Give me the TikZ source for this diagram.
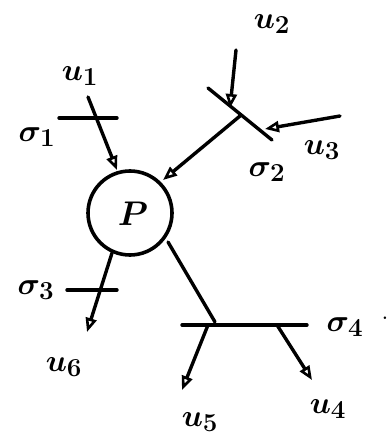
\documentclass[tikz,border=0pt]{standalone}
\usetikzlibrary{arrows.meta}
\begin{document}
\begin{tikzpicture}[x=1pt,y=-1pt,
  wire/.style={line width=3.4pt,line cap=round},
  flow/.style={wire,-{Triangle[open,length=14pt,width=11pt,line width=2.6pt]}},
  lbl/.style={font=\fontsize{24.88}{28}\selectfont\boldmath,inner sep=0pt,scale=1.25}]
\useasboundingbox (0,0) rectangle (390,443);
% process
\node[draw,circle,line width=3.6pt,minimum size=84pt,inner sep=0pt] (P) at (130,213) {};
\node[lbl,scale=1.1] (Pl) at (133,214) {$P$};
% sigma 1
\coordinate (u1s) at (88,97);
\coordinate (u1t) at (117,170);
\coordinate (b1a) at (59,118);
\coordinate (b1b) at (117,118);
\draw[wire] (b1a) -- (b1b);
\draw[flow] (u1s) -- (u1t);
\node[lbl] (u1) at (80,76) {$u_1$};
\node[lbl] (s1) at (37,137) {$\sigma_1$};
% sigma 2
\coordinate (b2a) at (208,88);
\coordinate (b2b) at (272,140);
\coordinate (j2) at (240,116);
\coordinate (u2s) at (236,50);
\coordinate (u2t) at (230,108);
\coordinate (u3s) at (340,116);
\coordinate (u3t) at (265,129);
\coordinate (pt2) at (163,180);
\draw[wire] (b2a) -- (b2b);
\draw[flow] (u2s) -- (u2t);
\draw[flow] (u3s) -- (u3t);
\draw[flow] (j2) -- (pt2);
\node[lbl] (u2) at (272,24) {$u_2$};
\node[lbl] (u3) at (322,150) {$u_3$};
\node[lbl] (s2) at (267,172) {$\sigma_2$};
% sigma 3
\coordinate (o3) at (112,253);
\coordinate (u6t) at (87,332);
\coordinate (b3a) at (67,290);
\coordinate (b3b) at (117,290);
\draw[wire] (b3a) -- (b3b);
\draw[flow] (o3) -- (u6t);
\node[lbl] (s3) at (36,290) {$\sigma_3$};
\node[lbl] (u6) at (64,367) {$u_6$};
% sigma 4
\coordinate (o4) at (168,242);
\coordinate (j4) at (215,322);
\coordinate (b4a) at (182,325);
\coordinate (b4b) at (307,325);
\coordinate (u5s) at (208,325);
\coordinate (u5t) at (182,390);
\coordinate (u4s) at (277,325);
\coordinate (u4t) at (312,380);
\draw[wire] (o4) -- (j4);
\draw[wire] (b4a) -- (b4b);
\draw[flow] (u5s) -- (u5t);
\draw[flow] (u4s) -- (u4t);
\node[lbl] (s4) at (345,327) {$\sigma_4$};
\node[lbl] (dot) at (385,318) {.};
\node[lbl] (u5) at (200,422) {$u_5$};
\node[lbl] (u4) at (328,409) {$u_4$};
\end{tikzpicture}
\end{document}
